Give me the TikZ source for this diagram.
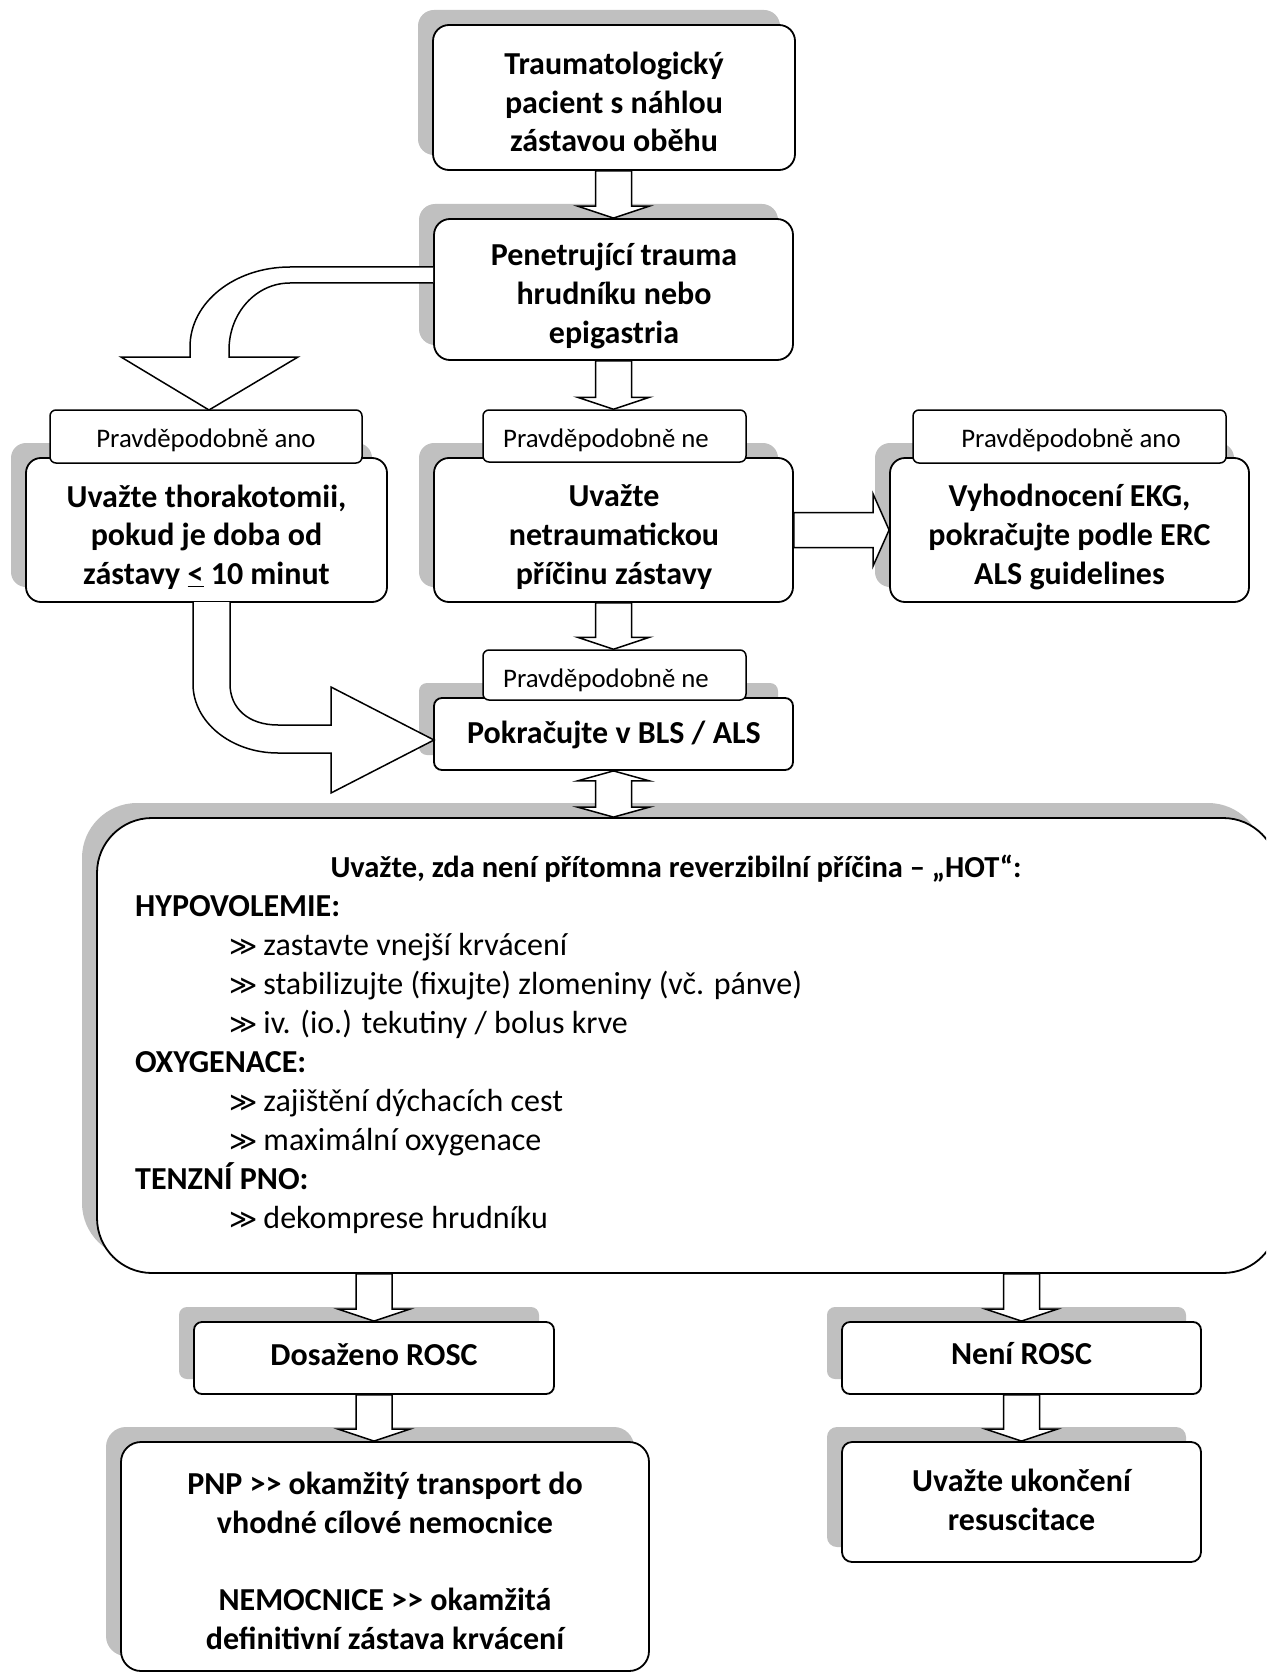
\documentclass[tikz,border=0pt]{standalone}
\usepackage{fontspec}
\setmainfont{Carlito}
\newfontfamily\symfont{DejaVu Sans}
\usetikzlibrary{shadows,calc}
\definecolor{shgray}{RGB}{192,192,192}
\newcommand{\blockdown}[2]{\draw[barrow] let \p1=#1, \p2=#2 in (\x2-18pt,\y1) -- (\x2-18pt,\y2+12pt) -- (\x2-36pt,\y2+12pt) -- (\x2,\y2) -- (\x2+36pt,\y2+12pt) -- (\x2+18pt,\y2+12pt) -- (\x2+18pt,\y1) -- cycle;}
\newcommand{\gsym}{{\symfont\fontsize{27pt}{32pt}\selectfont ≫}\hspace{6pt}}
\begin{document}
\begin{tikzpicture}[x=1pt,y=-1pt,
  box/.style={draw, line width=1.8pt, fill=white, inner sep=0pt,
    drop shadow={shadow xshift=-15pt, shadow yshift=15pt, opacity=1, fill=shgray, draw=none}},
  lbl/.style={draw, line width=1.5pt, fill=white, rounded corners=6pt, inner sep=0pt},
  txt/.style={align=center, inner sep=0pt, font=\bfseries\fontsize{32pt}{38.7pt}\selectfont},
  ltxt/.style={inner sep=0pt, font=\fontsize{26.8pt}{31pt}\selectfont},
  btxt/.style={inner sep=0pt, anchor=base west, font=\fontsize{32pt}{38.7pt}\selectfont},
  htxt/.style={inner sep=0pt, anchor=base west, font=\bfseries\fontsize{32pt}{38.7pt}\selectfont},
  barrow/.style={draw, line width=1.5pt, fill=white, line join=miter}]
\useasboundingbox (0,0) rectangle (1266,1677);
\fill[white] (0,0) rectangle (1266,1677);
\clip (0,0) rectangle (1266,1677);

% main boxes
\node[box, rounded corners=16pt, minimum width=362pt, minimum height=145pt] (b1) at (614,97.5) {};
\node[box, rounded corners=16pt, minimum width=359pt, minimum height=141pt] (b2) at (613.5,289.5) {};
\node[box, rounded corners=15pt, minimum width=361pt, minimum height=144pt] (lb) at (206.5,530) {};
\node[box, rounded corners=15pt, minimum width=359pt, minimum height=144pt] (mb) at (613.5,530) {};
\node[box, rounded corners=15pt, minimum width=359pt, minimum height=144pt] (rb) at (1069.5,530) {};
\node[box, rounded corners=8pt, minimum width=359pt, minimum height=72pt] (pok) at (613.5,734) {};
\node[box, rounded corners=55pt, minimum width=1181pt, minimum height=455pt] (big) at (687.5,1045.5) {};
\node[box, rounded corners=8pt, minimum width=360pt, minimum height=72pt] (dos) at (374,1358) {};
\node[box, rounded corners=8pt, minimum width=359pt, minimum height=72pt] (neni) at (1021.5,1358) {};
\node[box, rounded corners=20pt, minimum width=528pt, minimum height=229pt] (pnp) at (385,1556.5) {};
\node[box, rounded corners=10pt, minimum width=359pt, minimum height=120pt] (ukon) at (1021.5,1502) {};

% label boxes
\node[lbl, minimum width=312pt, minimum height=53pt] (L1) at (206,436.5) {};
\node[lbl, minimum width=263pt, minimum height=52pt] (L2) at (614.5,436) {};
\node[lbl, minimum width=313pt, minimum height=53pt] (L3) at (1069.5,436.5) {};
\node[lbl, minimum width=263pt, minimum height=50pt] (L4) at (614.5,675) {};

% texts
\node[txt] (t1) at (614,102) {Traumatologický\\pacient s náhlou\\zástavou oběhu};
\node[txt] (t2) at (614,296) {Penetrující trauma\\hrudníku nebo\\epigastria};
\node[txt] (tl) at (206.5,537) {Uvažte thorakotomii,\\pokud je doba od\\zástavy \underline{<} 10 minut};
\node[txt] (tm) at (614,537) {Uvažte\\netraumatickou\\příčinu zástavy};
\node[txt] (tr) at (1069.5,537) {Vyhodnocení EKG,\\pokračujte podle ERC\\ALS guidelines};
\node[txt, anchor=base] (tpok) at (614,743) {Pokračujte v BLS / ALS};
\node[txt, anchor=base] (tdos) at (374,1365) {Dosaženo ROSC};
\node[txt, anchor=base] (tneni) at (1021.5,1364) {Není ROSC};
\node[txt] (tukon) at (1021.5,1500) {Uvažte ukončení\\resuscitace};
\node[txt] (tpnp) at (385,1561) {PNP >\kern0pt> okamžitý transport do\\vhodné cílové nemocnice\\[38.7pt]NEMOCNICE >\kern0pt> okamžitá\\definitivní zástava krvácení};

\node[ltxt, anchor=base] (lt1) at (206,447) {Pravděpodobně ano};
\node[ltxt, anchor=base] (lt2) at (606,447) {Pravděpodobně ne};
\node[ltxt, anchor=base] (lt3) at (1071,447) {Pravděpodobně ano};
\node[ltxt, anchor=base] (lt4) at (606,687) {Pravděpodobně ne};

% big box contents
\node[txt, anchor=base, font=\bfseries\fontsize{30.5pt}{38.7pt}\selectfont] (title) at (676,877) {Uvažte, zda není přítomna reverzibilní příčina – „HOT“:};
\node[htxt] (h1) at (135,916) {HYPOVOLEMIE:};
\node[btxt] (p1) at (229,955) {\gsym zastavte vnejší krvácení};
\node[btxt] (p2) at (229,994) {\gsym stabilizujte (fixujte) zlomeniny (vč. pánve)};
\node[btxt] (p3) at (229,1033) {\gsym iv. (io.) tekutiny / bolus krve};
\node[htxt] (h2) at (135,1072) {OXYGENACE:};
\node[btxt] (p4) at (229,1111) {\gsym zajištění dýchacích cest};
\node[btxt] (p5) at (229,1150) {\gsym maximální oxygenace};
\node[htxt] (h3) at (135,1189) {TENZNÍ PNO:};
\node[btxt] (p6) at (229,1228) {\gsym dekomprese hrudníku};

% straight block arrows
\blockdown{(b1.south)}{(b2.north)}
\blockdown{(b2.south)}{(b2.south |- L2.north)}
\blockdown{(mb.south)}{(mb.south |- L4.north)}
\blockdown{(dos.north |- big.south)}{(dos.north)}
\blockdown{(dos.south)}{(dos.south |- pnp.north)}
\blockdown{(neni.north |- big.south)}{(neni.north)}
\blockdown{(neni.south)}{(ukon.north)}

% double arrow
\draw[barrow] let \p1=(pok.south), \p2=(big.north -| pok.south) in
  (\x1,\y1) -- (\x1+36pt,\y1-10pt) -- (\x1+18pt,\y1-10pt) -- (\x1+18pt,\y2+10pt)
  -- (\x1+36pt,\y2+10pt) -- (\x1,\y2) -- (\x1-36pt,\y2+10pt) -- (\x1-18pt,\y2+10pt)
  -- (\x1-18pt,\y1-10pt) -- (\x1-36pt,\y1-10pt) -- cycle;

% right arrow
\draw[barrow] let \p1=(mb.east), \p2=(rb.west) in
  (\x1,\y1+17.5pt) -- (\x2-16pt,\y1+17.5pt) -- (\x2-16pt,\y1+36pt) -- (\x2,\y1)
  -- (\x2-16pt,\y1-36pt) -- (\x2-16pt,\y1-17.5pt) -- (\x1,\y1-17.5pt) -- cycle;

% curved arrow from b2 to L1
\draw[barrow] (433,267) -- (290,267) .. controls (235,267) and (190,302) .. (190,347)
  -- (190,357) -- (121,357) -- (209,410) -- (298,357) -- (229,357) -- (229,350)
  .. controls (229,313) and (256,283) .. (290,283) -- (433,283);

% curved arrow from lb to pok
\draw[barrow] (230,602) -- (230,684) .. controls (230,708) and (248,725) .. (278,725)
  -- (331,725) -- (331,687) -- (434,740) -- (331,793) -- (331,753) -- (278,753)
  .. controls (231,753) and (193,722) .. (193,684) -- (193,602);
\end{tikzpicture}
\end{document}
